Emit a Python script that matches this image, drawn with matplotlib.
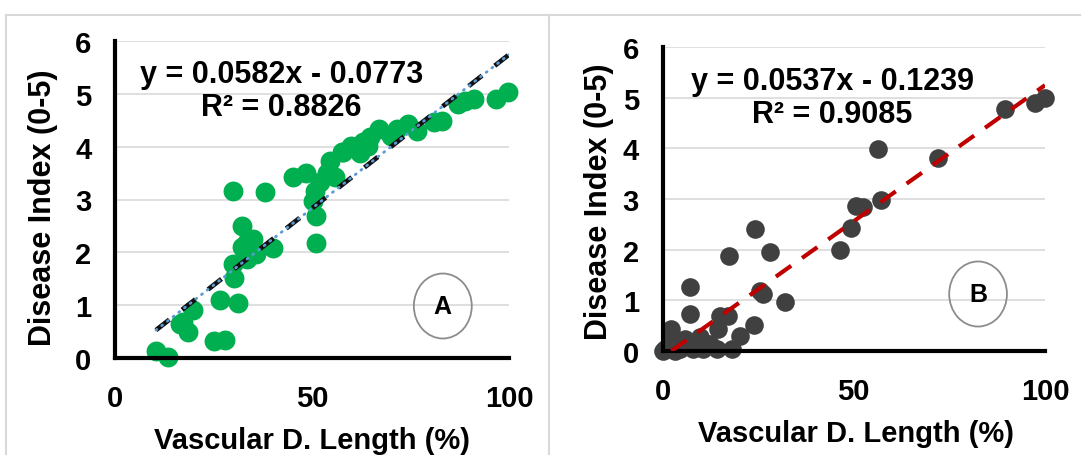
import matplotlib
matplotlib.use("Agg")
import matplotlib.pyplot as plt
from matplotlib.patches import Ellipse
from matplotlib.lines import Line2D
import numpy as np

plt.rcParams['font.family'] = ['Liberation Sans', 'DejaVu Sans']
plt.rcParams['font.weight'] = 'bold'

# Panel A data (green)
xa = [10.4, 13.4, 16.5, 18.6, 19.7, 17.3, 25.0, 27.9, 26.6, 31.1, 29.9, 38.1,
      32.2, 33.4, 35.1, 35.8, 33.4, 29.9, 30.3, 40.0, 32.2, 45.3, 48.6, 50.8,
      50.3, 51.0, 51.0, 52.0, 53.7, 55.8, 54.6, 57.5, 57.8, 60.0, 62.1, 64.3,
      64.7, 66.9, 70.0, 71.7, 74.4, 76.6, 80.9, 83.1, 87.1, 88.8, 91.0, 96.7,
      99.7, 63.0]
ya = [0.14, 0.01, 0.64, 0.49, 0.90, 0.68, 0.33, 0.35, 1.10, 1.04, 3.17, 3.15,
      2.50, 2.19, 2.25, 1.97, 1.87, 1.78, 1.51, 2.08, 2.10, 3.42, 3.50, 3.17,
      2.98, 2.69, 2.18, 3.33, 3.51, 3.42, 3.73, 3.89, 3.89, 4.02, 3.88, 4.02,
      4.18, 4.33, 4.21, 4.33, 4.43, 4.30, 4.46, 4.49, 4.81, 4.87, 4.91, 4.91,
      5.03, 4.08]
slope_a, icpt_a = 0.0582, -0.0773
eq_a = "y = 0.0582x - 0.0773"
r2_a = "R² = 0.8826"

# Panel B data (dark grey)
xb = [56.3, 72.1, 57.0, 50.5, 52.3, 49.4, 46.4, 24.1, 28.1, 17.5, 26.4, 25.6,
      32.1, 7.2, 7.2, 15.0, 17.2, 23.8, 20.3, 18.1, 14.2, 89.6, 97.3, 100.0,
      0.0, 0.65, 2.1, 3.3, 5.9, 8.1, 9.8, 12.4, 14.6, 4.6, 2.3, 10.6]
yb = [3.99, 3.80, 2.99, 2.86, 2.85, 2.43, 1.99, 2.40, 1.95, 1.87, 1.13, 1.19,
      0.96, 1.26, 0.73, 0.70, 0.70, 0.51, 0.30, 0.04, 0.04, 4.77, 4.90, 5.00,
      0.0, 0.04, 0.43, 0.0, 0.24, 0.04, 0.27, 0.14, 0.43, 0.04, 0.30, 0.04]
slope_b, icpt_b = 0.0537, -0.1239
eq_b = "y = 0.0537x - 0.1239"
r2_b = "R² = 0.9085"

x_ticks = [0, 50, 100]
y_ticks = [0, 1, 2, 3, 4, 5, 6]
x_label = "Vascular D. Length (%)"
y_label = "Disease Index (0-5)"

W, H = 1081, 456
fig = plt.figure(figsize=(W / 100, H / 100), dpi=100)


def fx(px):
    return px / W


def fy(py):
    return 1 - py / H


def make_axes(left, right, y0, y6):
    ax = fig.add_axes([fx(left), fy(y0), (right - left) / W, (y0 - y6) / H])
    ax.set_xlim(0, 100)
    ax.set_ylim(0, 6)
    ax.set_xticks(x_ticks)
    ax.set_yticks(y_ticks)
    for s in ['top', 'right']:
        ax.spines[s].set_visible(False)
    for s in ['left', 'bottom']:
        ax.spines[s].set_linewidth(3)
        ax.spines[s].set_color('black')
        ax.spines[s].set_zorder(4)
    ax.yaxis.grid(True, color='#D9D9D9', linewidth=1.2)
    ax.set_axisbelow(True)
    ax.tick_params(length=0, labelsize=21)
    ax.tick_params(axis='y', pad=17)
    ax.tick_params(axis='x', pad=19)
    for t in ax.get_xticklabels() + ax.get_yticklabels():
        t.set_fontweight('bold')
    return ax


# ---- Panel A ----
axA = make_axes(115, 509, 359, 42)
axA.scatter(xa, ya, s=205, color='#00B050', zorder=3, clip_on=False, linewidths=0)
xl = np.array([10.4, 100])
axA.plot(xl, slope_a * xl + icpt_a, color='#111111', lw=3.4, dashes=(3.6, 3.4), zorder=5)
axA.plot(xl, slope_a * xl + icpt_a, color='#5B9BD5', lw=2.0, dashes=(0.4, 2.2),
         dash_capstyle='round', zorder=6)
axA.text(0.423, 0.896, eq_a, transform=axA.transAxes, ha='center', va='center',
         fontsize=22, fontweight='bold')
axA.text(0.423, 0.792, r2_a, transform=axA.transAxes, ha='center', va='center',
         fontsize=22, fontweight='bold')
axA.add_patch(Ellipse((0.832, 0.164), 0.147, 0.205, transform=axA.transAxes,
                      fill=False, edgecolor='#8C8C8C', lw=1.3, zorder=7))
axA.text(0.832, 0.164, "A", transform=axA.transAxes, ha='center', va='center',
         fontsize=18, fontweight='bold', zorder=8)

# ---- Panel B ----
axB = make_axes(662.5, 1045, 352, 48)
axB.scatter(xb, yb, s=180, color='#404040', zorder=3, clip_on=False, linewidths=0)
xl = np.array([-icpt_b / slope_b, 100])
axB.plot(xl, slope_b * xl + icpt_b, color='#C00000', lw=3, dashes=(4.5, 3.2), zorder=5)
axB.text(0.444, 0.888, eq_b, transform=axB.transAxes, ha='center', va='center',
         fontsize=22, fontweight='bold')
axB.text(0.444, 0.780, r2_b, transform=axB.transAxes, ha='center', va='center',
         fontsize=22, fontweight='bold')
axB.add_patch(Ellipse((0.825, 0.1875), 0.151, 0.214, transform=axB.transAxes,
                      fill=False, edgecolor='#8C8C8C', lw=1.3, zorder=7))
axB.text(0.825, 0.1875, "B", transform=axB.transAxes, ha='center', va='center',
         fontsize=18, fontweight='bold', zorder=8)

# axis titles
fig.text(fx(311.6), fy(441), x_label, ha='center', va='center', fontsize=21, fontweight='bold')
fig.text(fx(855.7), fy(434), x_label, ha='center', va='center', fontsize=21, fontweight='bold')
fig.text(fx(43), fy(208), y_label, ha='center', va='center', rotation=90, fontsize=22,
         fontweight='bold')
fig.text(fx(598.5), fy(201.7), y_label, ha='center', va='center', rotation=90, fontsize=22,
         fontweight='bold')

# panel frames
frame_kw = dict(transform=fig.transFigure, color='#D9D9D9', lw=1.5)
fig.add_artist(Line2D([fx(6), 1], [fy(16), fy(16)], **frame_kw))
fig.add_artist(Line2D([fx(6), fx(6)], [0, fy(16)], **frame_kw))
fig.add_artist(Line2D([fx(549), fx(549)], [0, fy(16)], **frame_kw))

fig.savefig("out.png", dpi=100)
